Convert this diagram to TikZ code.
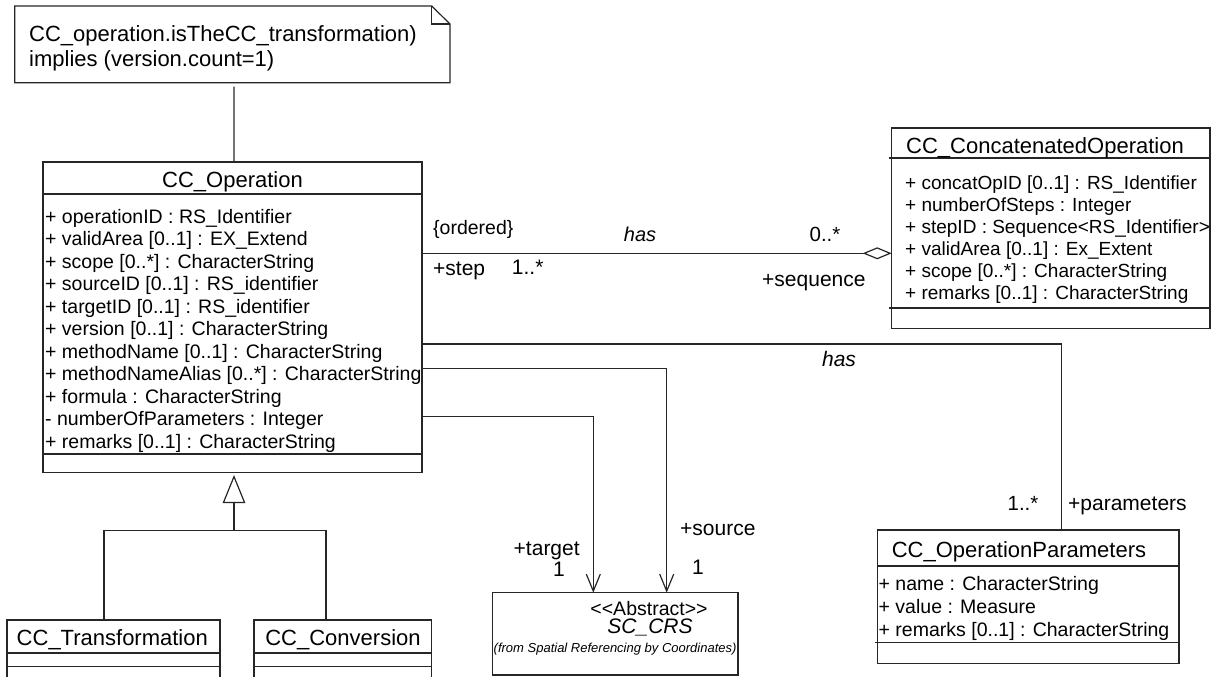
\documentclass[tikz,border=0pt]{standalone}
\usepackage{fontspec}
\setmainfont{Liberation Sans}[Ligatures=TeXOff]
\usetikzlibrary{arrows.meta}
\begin{document}
\begin{tikzpicture}[x=1pt,y=-1pt,
  line/.style={draw=black!85, line width=1.2pt},
  umlbox/.style={line, rectangle, inner sep=0pt, outer sep=0pt, anchor=north west},
  ttl/.style={font=\fontsize{22}{26}\selectfont, inner sep=0pt, anchor=base},
  attr/.style={font=\fontsize{19.5}{22.5}\selectfont, inner sep=0pt, anchor=base west},
  cattr/.style={font=\fontsize{19}{22}\selectfont, inner sep=0pt, anchor=base west},
  lbl/.style={font=\fontsize{21}{24}\selectfont, inner sep=0pt, anchor=base west},
  clbl/.style={font=\fontsize{20.5}{24}\selectfont, inner sep=0pt, anchor=base},
  nav/.style={line, -{Straight Barb[length=17pt,width=14pt]}},
]
\useasboundingbox (0,0) rectangle (1218,677);
\clip (0,0) rectangle (1218,677);

% constraint note with folded corner
\node[inner sep=0pt, outer sep=0pt, minimum width=435.3pt, minimum height=76.7pt, anchor=north west] (note) at (14.7,6) {};
\draw[line] (note.north west) -- ([xshift=-18.3pt]note.north east) -- ([yshift=-18pt]note.north east)
  -- (note.south east) -- (note.south west) -- cycle;
\draw[line] ([xshift=-18.3pt]note.north east) |- ([yshift=-18pt]note.north east);
\node[ttl, anchor=base west] (note-l1) at (29,41.7) {CC\_operation.isTheCC\_transformation)};
\node[ttl, anchor=base west] (note-l2) at (29,66.5) {implies (version.count=1)};

% CC_Operation
\node[umlbox, minimum width=379pt, minimum height=310.7pt] (op) at (43,162) {};
\draw[line] (43,194) -- (422,194);
\draw[line] (43,454) -- (422,454);
\node[ttl] (op-t) at (232.5,187) {CC\_Operation};
\foreach \t [count=\i from 0] in {
  + operationID : RS\_Identifier,
  + validArea [0..1] : EX\_Extend,
  + scope [0..*] : CharacterString,
  + sourceID [0..1] : RS\_identifier,
  + targetID [0..1] : RS\_identifier,
  + version [0..1] : CharacterString,
  + methodName [0..1] : CharacterString,
  + methodNameAlias [0..*] : CharacterString,
  + formula : CharacterString,
  - numberOfParameters : Integer,
  + remarks [0..1] : CharacterString}
  \node[attr] (op-a\i) at (45,{223.2+22.5*\i}) {\t};

% CC_ConcatenatedOperation
\node[umlbox, minimum width=318.3pt, minimum height=200.3pt] (cc) at (891.7,128) {};
\draw[line] (889,158) -- (1210,158);
\draw[line] (889,308) -- (1210,308);
\node[ttl] (cc-t) at (1045,153) {CC\_ConcatenatedOperation};
\foreach \t [count=\i from 0] in {
  + concatOpID [0..1] : RS\_Identifier,
  + numberOfSteps : Integer,
  + stepID : Sequence<RS\_Identifier>,
  + validArea [0..1] : Ex\_Extent,
  + scope [0..*] : CharacterString,
  + remarks [0..1] : CharacterString}
  \node[cattr] (cc-a\i) at (905,{189.5+22*\i}) {\t};

% CC_OperationParameters
\node[umlbox, minimum width=301.7pt, minimum height=133.3pt] (par) at (877.3,530) {};
\draw[line] (877.3,566) -- (1179,566);
\draw[line] (875,642.7) -- (1179,642.7);
\node[ttl] (par-t) at (1019,557) {CC\_OperationParameters};
\foreach \t [count=\i from 0] in {
  + name : CharacterString,
  + value : Measure,
  + remarks [0..1] : CharacterString}
  \node[attr] (par-a\i) at (878.5,{590.5+22.8*\i}) {\t};

% SC_CRS
\node[umlbox, minimum width=245.3pt, minimum height=82.3pt] (crs) at (492.7,592.7) {};
\node[font=\fontsize{19.5}{22}\selectfont, inner sep=0pt, anchor=base] (crs-s) at (649,615) {<<Abstract>>};
\node[font=\fontsize{21}{24}\selectfont\itshape, inner sep=0pt, anchor=base] (crs-t) at (650,633.3) {SC\_CRS};
\node[font=\fontsize{13}{15}\selectfont\itshape, inner sep=0pt, anchor=base west] (crs-f) at (493.5,652) {(from Spatial Referencing by Coordinates)};

% CC_Transformation and CC_Conversion
\node[umlbox, minimum width=213pt, minimum height=80pt] (tr) at (7,620) {};
\draw[line] (7,653) -- (220,653);
\draw[line] (7,666.7) -- (220,666.7);
\node[ttl] (tr-t) at (112.3,645.5) {CC\_Transformation};
\node[umlbox, minimum width=177.7pt, minimum height=80pt] (cv) at (254,620) {};
\draw[line] (254,653) -- (431.7,653);
\draw[line] (254,666.7) -- (431.7,666.7);
\node[ttl] (cv-t) at (343,645.5) {CC\_Conversion};

% note anchor line
\draw[line, shorten <=4pt] ([xshift=1.6pt]note.south) -- ([xshift=1.5pt]op.north);

% generalization
\coordinate (jn) at (234,530.7);
\coordinate (tl) at (104,530.7);
\coordinate (cl) at (326,530.7);
\draw[line] (tr.north -| tl) -- (tl) -- (cl) -- (cv.north -| cl);
\draw[line, -{Triangle[open,length=28pt,width=22.5pt]}, shorten >=2.3pt] (jn) -- (op.south -| jn);

% aggregation: concatenated operation has ordered steps
\coordinate (ay) at (0,253.3);
\draw[line, -{Diamond[open,length=29pt,width=12pt]}] (op.east |- ay) -- (cc.west |- ay);
\node[font=\fontsize{19.5}{22}\selectfont, inner sep=0pt, anchor=base west] (ord) at (433,234) {\{ordered\}};
\node[clbl, font=\fontsize{20}{24}\selectfont\itshape] (has1) at (640,241.5) {has};
\node[clbl] (m0) at (825,241.5) {0..*};
\node[lbl] (stp) at (433,275) {+step};
\node[lbl] (m1) at (511.7,274) {1..*};
\node[lbl] (seq) at (762,286) {+sequence};

% association to parameters
\coordinate (y1) at (0,344);
\coordinate (px) at (1061.7,0);
\draw[line] (op.east |- y1) -| (par.north -| px);
\node[clbl, font=\fontsize{21}{24}\selectfont\itshape] (has2) at (839,366.7) {has};
\node[clbl] (m2) at (1023,510) {1..*};
\node[lbl] (prm) at (1068,510) {+parameters};

% source and target CRS
\coordinate (y2) at (0,368.3);
\coordinate (y3) at (0,416.7);
\coordinate (sx) at (666.7,0);
\coordinate (tx) at (593.3,0);
\draw[nav] (op.east |- y2) -| (crs.north -| sx);
\draw[nav] (op.east |- y3) -| (crs.north -| tx);
\node[lbl] (src) at (680,535) {+source};
\node[clbl, font=\fontsize{21}{24}\selectfont] (m3) at (698,574) {1};
\node[clbl, font=\fontsize{21}{24}\selectfont] (tgt) at (546.7,555) {+target};
\node[clbl, font=\fontsize{21}{24}\selectfont] (m4) at (559,576) {1};
\end{tikzpicture}
\end{document}
